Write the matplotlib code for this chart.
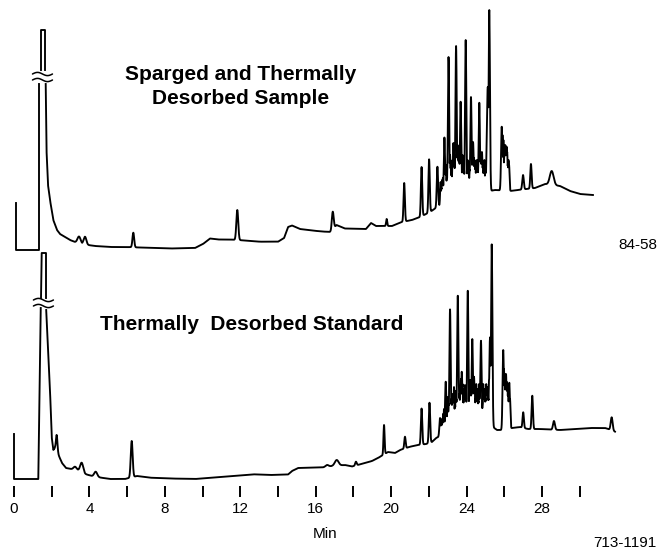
import numpy as np
import matplotlib.pyplot as plt

plt.rcParams['font.family'] = ['Liberation Sans', 'DejaVu Sans']

# ---------------- upper trace: sparged + thermally desorbed sample ----------------
# response in arbitrary units, retention time in minutes
top_lead_t = [0.10, 0.10, 1.34, 1.34]          # injection step and rising edge of solvent peak
top_lead_v = [47, 0, 0, 166]
top_solv_t = [1.416, 1.416, 1.644, 1.644]      # off-scale part of solvent peak (above the break)
top_solv_v = [180, 220, 220, 180]

top_base_t = [1.681, 1.723, 1.803, 1.909, 2.084, 2.280, 2.439, 2.704, 2.969, 3.234,
              3.499, 3.924, 4.295, 5.090, 5.885, 6.681, 8.271, 9.597, 10.02, 10.39,
              10.82, 11.45, 12.25, 13.04, 14.00, 14.32, 14.53, 14.74, 15.16, 15.80,
              16.33, 16.81, 17.10, 17.55, 18.66, 18.93, 19.19, 20.04, 20.57, 21.10,
              21.53, 22.06, 22.59, 23.12, 23.91, 24.71, 25.50, 26.30, 26.72, 27.62,
              28.15, 28.95, 29.48, 30.01, 30.70]
top_base_v = [166, 100, 65, 50, 30, 20, 16, 13, 10, 8,
              7, 5, 4, 3, 3, 2.5, 1.5, 2, 6, 11.5,
              10.5, 10.5, 9.5, 8.3, 8.3, 12, 23, 24.5, 21, 19.5,
              18.5, 18, 25, 21.5, 21, 27, 24, 24, 28, 30,
              33, 38, 45, 50, 54, 57, 60, 59, 60, 62,
              66, 64, 59, 56, 55]

top_peak_t = [3.446, 3.765, 6.326, 11.84, 16.90, 19.76, 20.69, 21.61, 22.01, 22.45,
              22.70, 22.82, 22.90, 23.04, 23.12, 23.20, 23.30, 23.44, 23.52, 23.60,
              23.68, 23.78, 23.86, 23.95, 24.05, 24.12, 24.23, 24.34, 24.42, 24.50,
              24.58, 24.67, 24.74, 24.81, 24.90, 25.00, 25.12, 25.20, 25.86, 26.01,
              26.12, 26.18, 26.22, 26.99, 27.41, 28.51]
top_peak_v = [13.5, 13.3, 17.3, 40, 38.3, 31, 67, 83, 90.7, 83.3,
              70, 112.5, 85, 193, 95, 80, 107, 204, 105, 100,
              148.3, 95, 80, 210, 90, 75, 153, 108, 90, 80,
              85, 147.3, 95, 98, 80, 85, 163, 240, 123.3, 100,
              103.3, 85, 90, 75, 86, 79]
top_peak_w = [0.08, 0.07, 0.045, 0.05, 0.05, 0.03, 0.035, 0.035, 0.035, 0.035,
              0.03, 0.035, 0.03, 0.035, 0.03, 0.03, 0.03, 0.035, 0.03, 0.03,
              0.035, 0.03, 0.03, 0.035, 0.03, 0.03, 0.035, 0.035, 0.03, 0.03,
              0.03, 0.035, 0.03, 0.035, 0.03, 0.03, 0.05, 0.035, 0.035, 0.035,
              0.035, 0.03, 0.035, 0.04, 0.035, 0.1]

# unresolved minor components filling the hump
top_minor_t = [22.62, 22.66, 22.74, 22.78, 22.86, 22.95, 22.99, 23.08, 23.16, 23.25,
               23.34, 23.38, 23.48, 23.56, 23.64, 23.72, 23.82, 23.90, 24.00, 24.09,
               24.16, 24.19, 24.27, 24.30, 24.38, 24.46, 24.54, 24.62, 24.70, 24.78,
               24.86, 24.94, 25.04, 25.08, 25.16, 25.90, 25.95, 26.05, 26.08, 26.15,
               26.25]
top_minor_v = [68, 62, 72, 66, 80, 75, 88, 92, 85, 90,
               95, 88, 100, 98, 92, 100, 88, 85, 82, 88,
               80, 92, 95, 88, 92, 86, 90, 82, 96, 92,
               85, 90, 80, 95, 100, 115, 110, 105, 100, 98,
               85]

# ---------------- lower trace: thermally desorbed standard ----------------
bot_lead_t = [0.0, 0.0, 1.288, 1.418]
bot_lead_v = [45, 0, 0, 171]
bot_solv_t = [1.432, 1.469, 1.697, 1.697]
bot_solv_v = [181, 226, 226, 181]

bot_base_t = [1.707, 1.803, 1.909, 1.999, 2.084, 2.174, 2.36, 2.545, 2.757, 3.022,
              3.393, 3.765, 4.136, 4.560, 5.090, 5.885, 6.522, 7.211, 8.271, 9.597,
              10.92, 11.98, 12.67, 13.57, 14.53, 14.74, 15.06, 15.69, 16.33, 16.86,
              17.55, 17.92, 18.61, 18.98, 19.30, 19.83, 20.20, 20.47, 21.00, 21.43,
              21.85, 22.16, 22.38, 22.85, 23.65, 24.71, 25.24, 25.61, 26.03, 26.41,
              26.83, 27.25, 27.88, 28.95, 29.75, 30.54, 31.34, 31.50, 31.87]
bot_base_v = [169, 129, 89, 42, 29, 31, 24, 16, 11, 10,
              9, 5, 3, 1.5, 0, 0, 3, 1.3, 0.5, 0,
              2, 3.5, 4.7, 4, 4.5, 8, 11, 11.3, 11.5, 13,
              14, 12.5, 16, 18, 21, 27, 26, 29, 32.3, 34,
              35, 37, 41, 45, 49, 52, 54, 49, 49, 51,
              52, 50, 50, 49, 50, 51, 51, 50, 47.3]

bot_peak_t = [2.264, 3.234, 3.590, 4.332, 6.241, 16.60, 17.11, 18.13, 19.62, 20.73,
              21.61, 22.03, 22.59, 22.70, 22.89, 22.98, 23.05, 23.12, 23.20, 23.28,
              23.38, 23.45, 23.53, 23.62, 23.74, 23.82, 23.91, 24.00, 24.06, 24.12,
              24.18, 24.24, 24.30, 24.39, 24.47, 24.55, 24.62, 24.70, 24.76, 24.85,
              24.92, 25.00, 25.08, 25.15, 25.24, 25.33, 25.94, 26.12, 26.26, 27.00,
              27.48, 28.63, 31.69]
bot_peak_v = [44, 12.3, 16.3, 7.3, 38, 14, 19, 17.3, 54, 42.3,
              70.5, 76.3, 61, 60, 97.3, 70, 75, 169.7, 80, 84,
              75, 80, 183.3, 85, 107.3, 80, 94, 80, 188.3, 78,
              99, 85, 140, 102.3, 80, 84, 78, 85, 138.3, 75,
              84, 80, 89, 80, 141.7, 234.7, 129, 97.3, 96.3, 66.7,
              83.3, 58, 61.7]
bot_peak_w = [0.04, 0.08, 0.08, 0.08, 0.05, 0.08, 0.1, 0.04, 0.03, 0.035,
              0.035, 0.035, 0.035, 0.03, 0.035, 0.03, 0.03, 0.035, 0.03, 0.035,
              0.03, 0.03, 0.035, 0.03, 0.035, 0.03, 0.035, 0.03, 0.035, 0.03,
              0.035, 0.03, 0.035, 0.035, 0.03, 0.035, 0.03, 0.03, 0.035, 0.03,
              0.035, 0.03, 0.035, 0.03, 0.04, 0.035, 0.035, 0.035, 0.035, 0.035,
              0.035, 0.05, 0.05]

bot_minor_t = [22.65, 22.75, 22.80, 22.93, 23.00, 23.09, 23.16, 23.24, 23.33, 23.42,
               23.49, 23.58, 23.66, 23.70, 23.78, 23.86, 23.96, 24.03, 24.09, 24.15,
               24.21, 24.27, 24.34, 24.43, 24.51, 24.58, 24.66, 24.73, 24.80, 24.88,
               24.96, 25.04, 25.12, 25.19, 25.28, 25.98, 26.02, 26.06, 26.09, 26.16,
               26.20, 26.30]
bot_minor_v = [58, 65, 70, 72, 82, 90, 88, 85, 92, 88,
               95, 98, 92, 100, 95, 90, 92, 95, 90, 98,
               96, 100, 96, 92, 95, 90, 95, 100, 92, 95,
               90, 95, 92, 100, 110, 110, 105, 100, 105, 95,
               92, 80]

tick_minutes = list(range(0, 31, 2))
tick_labels = ['0', '', '4', '', '8', '', '12', '', '16', '', '20', '', '24', '', '28', '']


def build_trace(base_t, base_v, pk_t, pk_v, pk_w):
    t = np.arange(base_t[0], base_t[-1], 0.004)
    base = np.interp(t, base_t, base_v)
    bump = np.zeros_like(t)
    for rt, apex, w in zip(pk_t, pk_v, pk_w):
        h = apex - np.interp(rt, base_t, base_v)
        bump = np.maximum(bump, h * np.exp(-0.5 * ((t - rt) / w) ** 2))
    return t, base + bump


def draw_break(ax, tc, v_hi, v_lo):
    # "≈" break symbol across the off-scale solvent peak
    u = np.linspace(0, 1, 40)
    xs = tc + (u - 0.5) * 1.06
    for v in (v_hi, v_lo):
        ax.plot(xs, v + 1.6 * np.sin(2 * np.pi * u), color='black', lw=1.1,
                solid_capstyle='round', clip_on=False)


W, H = 659, 550
fig = plt.figure(figsize=(W / 100, H / 100), dpi=100)
xlim = (-14 / 18.86, (W - 14) / 18.86)

ax1 = fig.add_axes([0, (H - 260) / H, 1, 260 / H])
ax2 = fig.add_axes([0, (H - 486) / H, 1, 246 / H])
ax1.set_ylim(-10, 250)
ax2.set_ylim(-7, 239)

line_kw = dict(color='black', lw=1.35, solid_joinstyle='round', clip_on=False)

traces = [
    (ax1, top_lead_t, top_lead_v, top_solv_t, top_solv_v, top_base_t, top_base_v,
     top_peak_t + top_minor_t, top_peak_v + top_minor_v,
     top_peak_w + [0.025] * len(top_minor_t), (1.51, 176, 170)),
    (ax2, bot_lead_t, bot_lead_v, bot_solv_t, bot_solv_v, bot_base_t, bot_base_v,
     bot_peak_t + bot_minor_t, bot_peak_v + bot_minor_v,
     bot_peak_w + [0.025] * len(bot_minor_t), (1.56, 179, 173)),
]

for ax, lead_t, lead_v, solv_t, solv_v, bt, bv, pt, pv, pw, brk in traces:
    t, y = build_trace(bt, bv, pt, pv, pw)
    ax.plot(lead_t, lead_v, **line_kw)
    ax.plot(solv_t, solv_v, **line_kw)
    ax.plot(t, y, **line_kw)
    draw_break(ax, *brk)
    ax.set_xlim(*xlim)
    for s in ax.spines.values():
        s.set_visible(False)
    ax.patch.set_alpha(0)

ax1.set_xticks([])
ax1.set_yticks([])
ax2.set_yticks([])
ax2.set_xticks(tick_minutes)
ax2.set_xticklabels(tick_labels)
ax2.tick_params(axis='x', direction='out', length=8, width=1.4, pad=3.5, labelsize=11)

fig.text(241 / W, 1 - 80 / H, 'Sparged and Thermally', ha='center', va='baseline',
         fontsize=15, fontweight='bold')
fig.text(241 / W, 1 - 103.5 / H, 'Desorbed Sample', ha='center', va='baseline',
         fontsize=15, fontweight='bold')
fig.text(252 / W, 1 - 330 / H, 'Thermally  Desorbed Standard', ha='center', va='baseline',
         fontsize=15, fontweight='bold')
fig.text(325 / W, 1 - 534 / H, 'Min', ha='center', va='center', fontsize=11)
fig.text(657 / W, 1 - 245 / H, '84-58', ha='right', va='center', fontsize=11)
fig.text(657 / W, 1 - 543 / H, '713-1191', ha='right', va='center', fontsize=11)

fig.savefig('out.png', dpi=100)
